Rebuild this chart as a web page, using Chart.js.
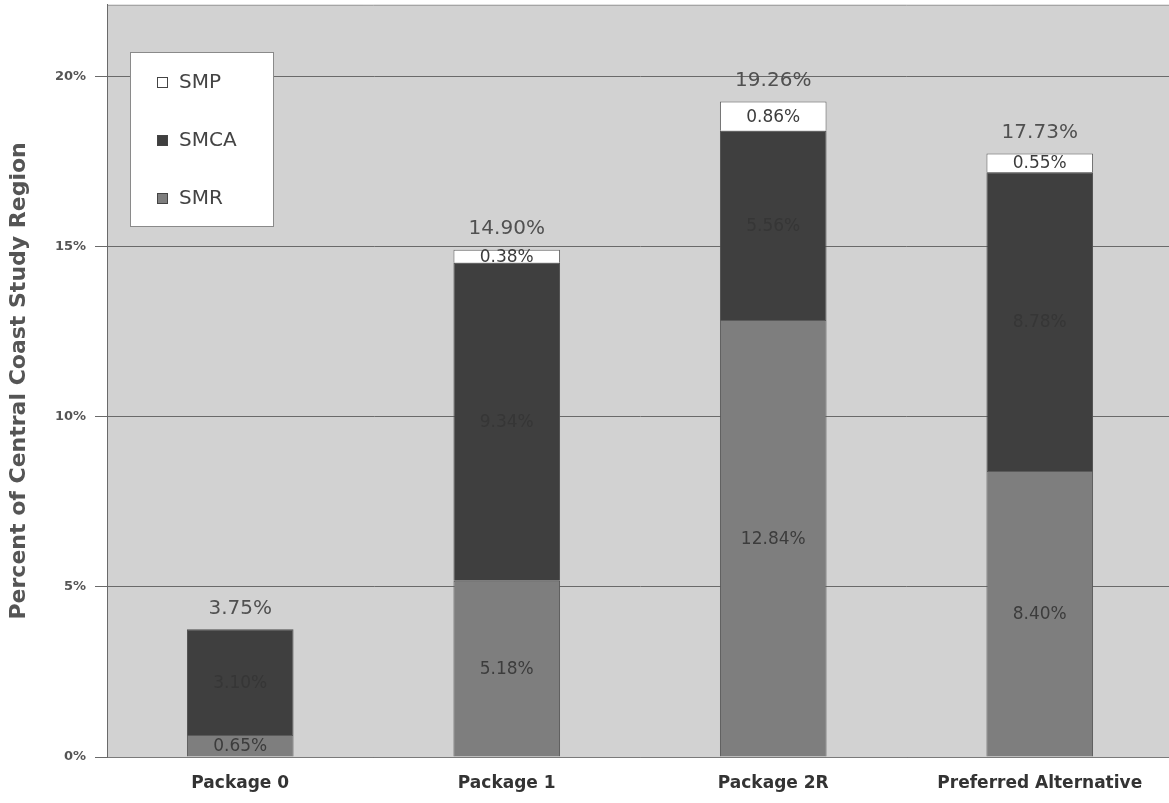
<!DOCTYPE html>
<html>
<head>
<meta charset="utf-8">
<script src="https://cdn.jsdelivr.net/npm/chart.js@4.4.0/dist/chart.umd.min.js"></script>
<style>
  html, body { margin: 0; padding: 0; background: #fff; overflow: hidden; }
  /* lift the canvas so the plot starts near the top edge like the scan */
  #wrap { width: 1175px; height: 815px; margin-top: -12px; }
</style>
</head>
<body>
<div id="wrap"><canvas id="myChart"></canvas></div>
<script>
// values (percent of study region)
const categories = ['Package 0', 'Package 1', 'Package 2R', 'Preferred Alternative'];
const smr  = [0.65, 5.18, 12.84, 8.40];
const smca = [3.10, 9.34, 5.56, 8.78];
const smp  = [0, 0.38, 0.86, 0.55];
const totals = [3.75, 14.90, 19.26, 17.73];
const yTicks = [0, 5, 10, 15, 20];

const FONT = '"DejaVu Sans", Verdana, sans-serif';

// grey plot area behind the bars
const plotBg = {
    id: 'plotBg',
    beforeDraw(chart) {
        const { ctx, chartArea: a } = chart;
        ctx.save();
        ctx.fillStyle = '#d2d2d2';
        ctx.fillRect(a.left, a.top, a.right - a.left, a.bottom - a.top);
        ctx.strokeStyle = '#9a9a9a';
        ctx.lineWidth = 1;
        ctx.beginPath();
        ctx.moveTo(a.left, a.top + 0.5);
        ctx.lineTo(a.right, a.top + 0.5);
        ctx.stroke();
        ctx.restore();
    }
};

// segment values and totals
const barLabels = {
    id: 'barLabels',
    afterDatasetsDraw(chart) {
        const { ctx } = chart;
        ctx.save();
        ctx.textAlign = 'center';
        ctx.textBaseline = 'middle';
        chart.data.datasets.forEach((ds, i) => {
            const meta = chart.getDatasetMeta(i);
            meta.data.forEach((bar, j) => {
                const v = ds.data[j];
                if (!v) return;
                const y = (bar.y + bar.base) / 2;
                ctx.font = '17px ' + FONT;
                ctx.fillStyle = ds.label === 'SMCA' ? '#363636' : '#3c3c3c';
                ctx.fillText(v.toFixed(2) + '%', bar.x, y + 1);
            });
        });
        const top = chart.getDatasetMeta(chart.data.datasets.length - 1);
        totals.forEach((t, j) => {
            const x = top.data[j].x;
            const y = chart.scales.y.getPixelForValue(t);
            ctx.font = '20px ' + FONT;
            ctx.fillStyle = '#505050';
            ctx.fillText(t.toFixed(2) + '%', x, y - 21);
        });
        ctx.restore();
    }
};

// boxed legend inside the plot, SMP on top
const boxLegend = {
    id: 'boxLegend',
    afterDraw(chart) {
        const { ctx } = chart;
        const x = 130, y = 64, w = 143, h = 174;
        ctx.save();
        ctx.fillStyle = '#ffffff';
        ctx.fillRect(x, y, w, h);
        ctx.strokeStyle = '#8a8a8a';
        ctx.lineWidth = 1;
        ctx.strokeRect(x + 0.5, y + 0.5, w, h);
        ctx.font = '20px ' + FONT;
        ctx.textBaseline = 'middle';
        const list = chart.data.datasets.slice().reverse();
        list.forEach((ds, k) => {
            const ty = y + 30 + k * 58;
            ctx.fillStyle = ds.backgroundColor;
            ctx.fillRect(x + 27, ty - 5, 11, 11);
            ctx.strokeStyle = '#444';
            ctx.strokeRect(x + 27.5, ty - 4.5, 10, 10);
            ctx.fillStyle = '#444';
            ctx.fillText(ds.label, x + 49, ty + 1);
        });
        ctx.restore();
    }
};

const ctx = document.getElementById('myChart').getContext('2d');
const myChart = new Chart(ctx, {
    type: 'bar',
    data: {
        labels: categories,
        datasets: [
            { label: 'SMR', data: smr, backgroundColor: '#7e7e7e', borderColor: '#5a5a5a', borderWidth: 1 },
            { label: 'SMCA', data: smca, backgroundColor: '#3f3f3f', borderColor: '#505050', borderWidth: 1 },
            { label: 'SMP', data: smp, backgroundColor: '#ffffff', borderColor: '#6a6a6a', borderWidth: 1 }
        ]
    },
    options: {
        responsive: true,
        maintainAspectRatio: false,
        animation: false,
        layout: { padding: { top: 0, right: 2, left: 0, bottom: 0 } },
        plugins: { legend: { display: false }, tooltip: { enabled: false } },
        datasets: { bar: { barPercentage: 0.4, categoryPercentage: 1 } },
        scales: {
            x: {
                stacked: true,
                afterFit: (scale) => { scale.height = 46; },
                grid: { display: false, drawTicks: false },
                border: { color: '#7a7a7a' },
                ticks: {
                    color: '#333',
                    padding: 16,
                    font: { family: FONT, size: 17, weight: 'bold' }
                }
            },
            y: {
                stacked: true,
                min: 0,
                max: 22.1,
                afterFit: (scale) => { scale.width = 107; },
                afterBuildTicks: (scale) => { scale.ticks = yTicks.map(v => ({ value: v })); },
                grid: { color: '#6a6a6a', tickLength: 12 },
                border: { color: '#6a6a6a' },
                ticks: {
                    color: '#555',
                    padding: 9,
                    callback: (v) => v + '%',
                    font: { family: FONT, size: 13, weight: 'bold' }
                },
                title: {
                    display: true,
                    text: 'Percent of Central Coast Study Region',
                    color: '#555',
                    padding: { top: 6, bottom: 0 },
                    font: { family: FONT, size: 22, weight: 'bold' }
                }
            }
        }
    },
    plugins: [plotBg, barLabels, boxLegend]
});
</script>
</body>
</html>
